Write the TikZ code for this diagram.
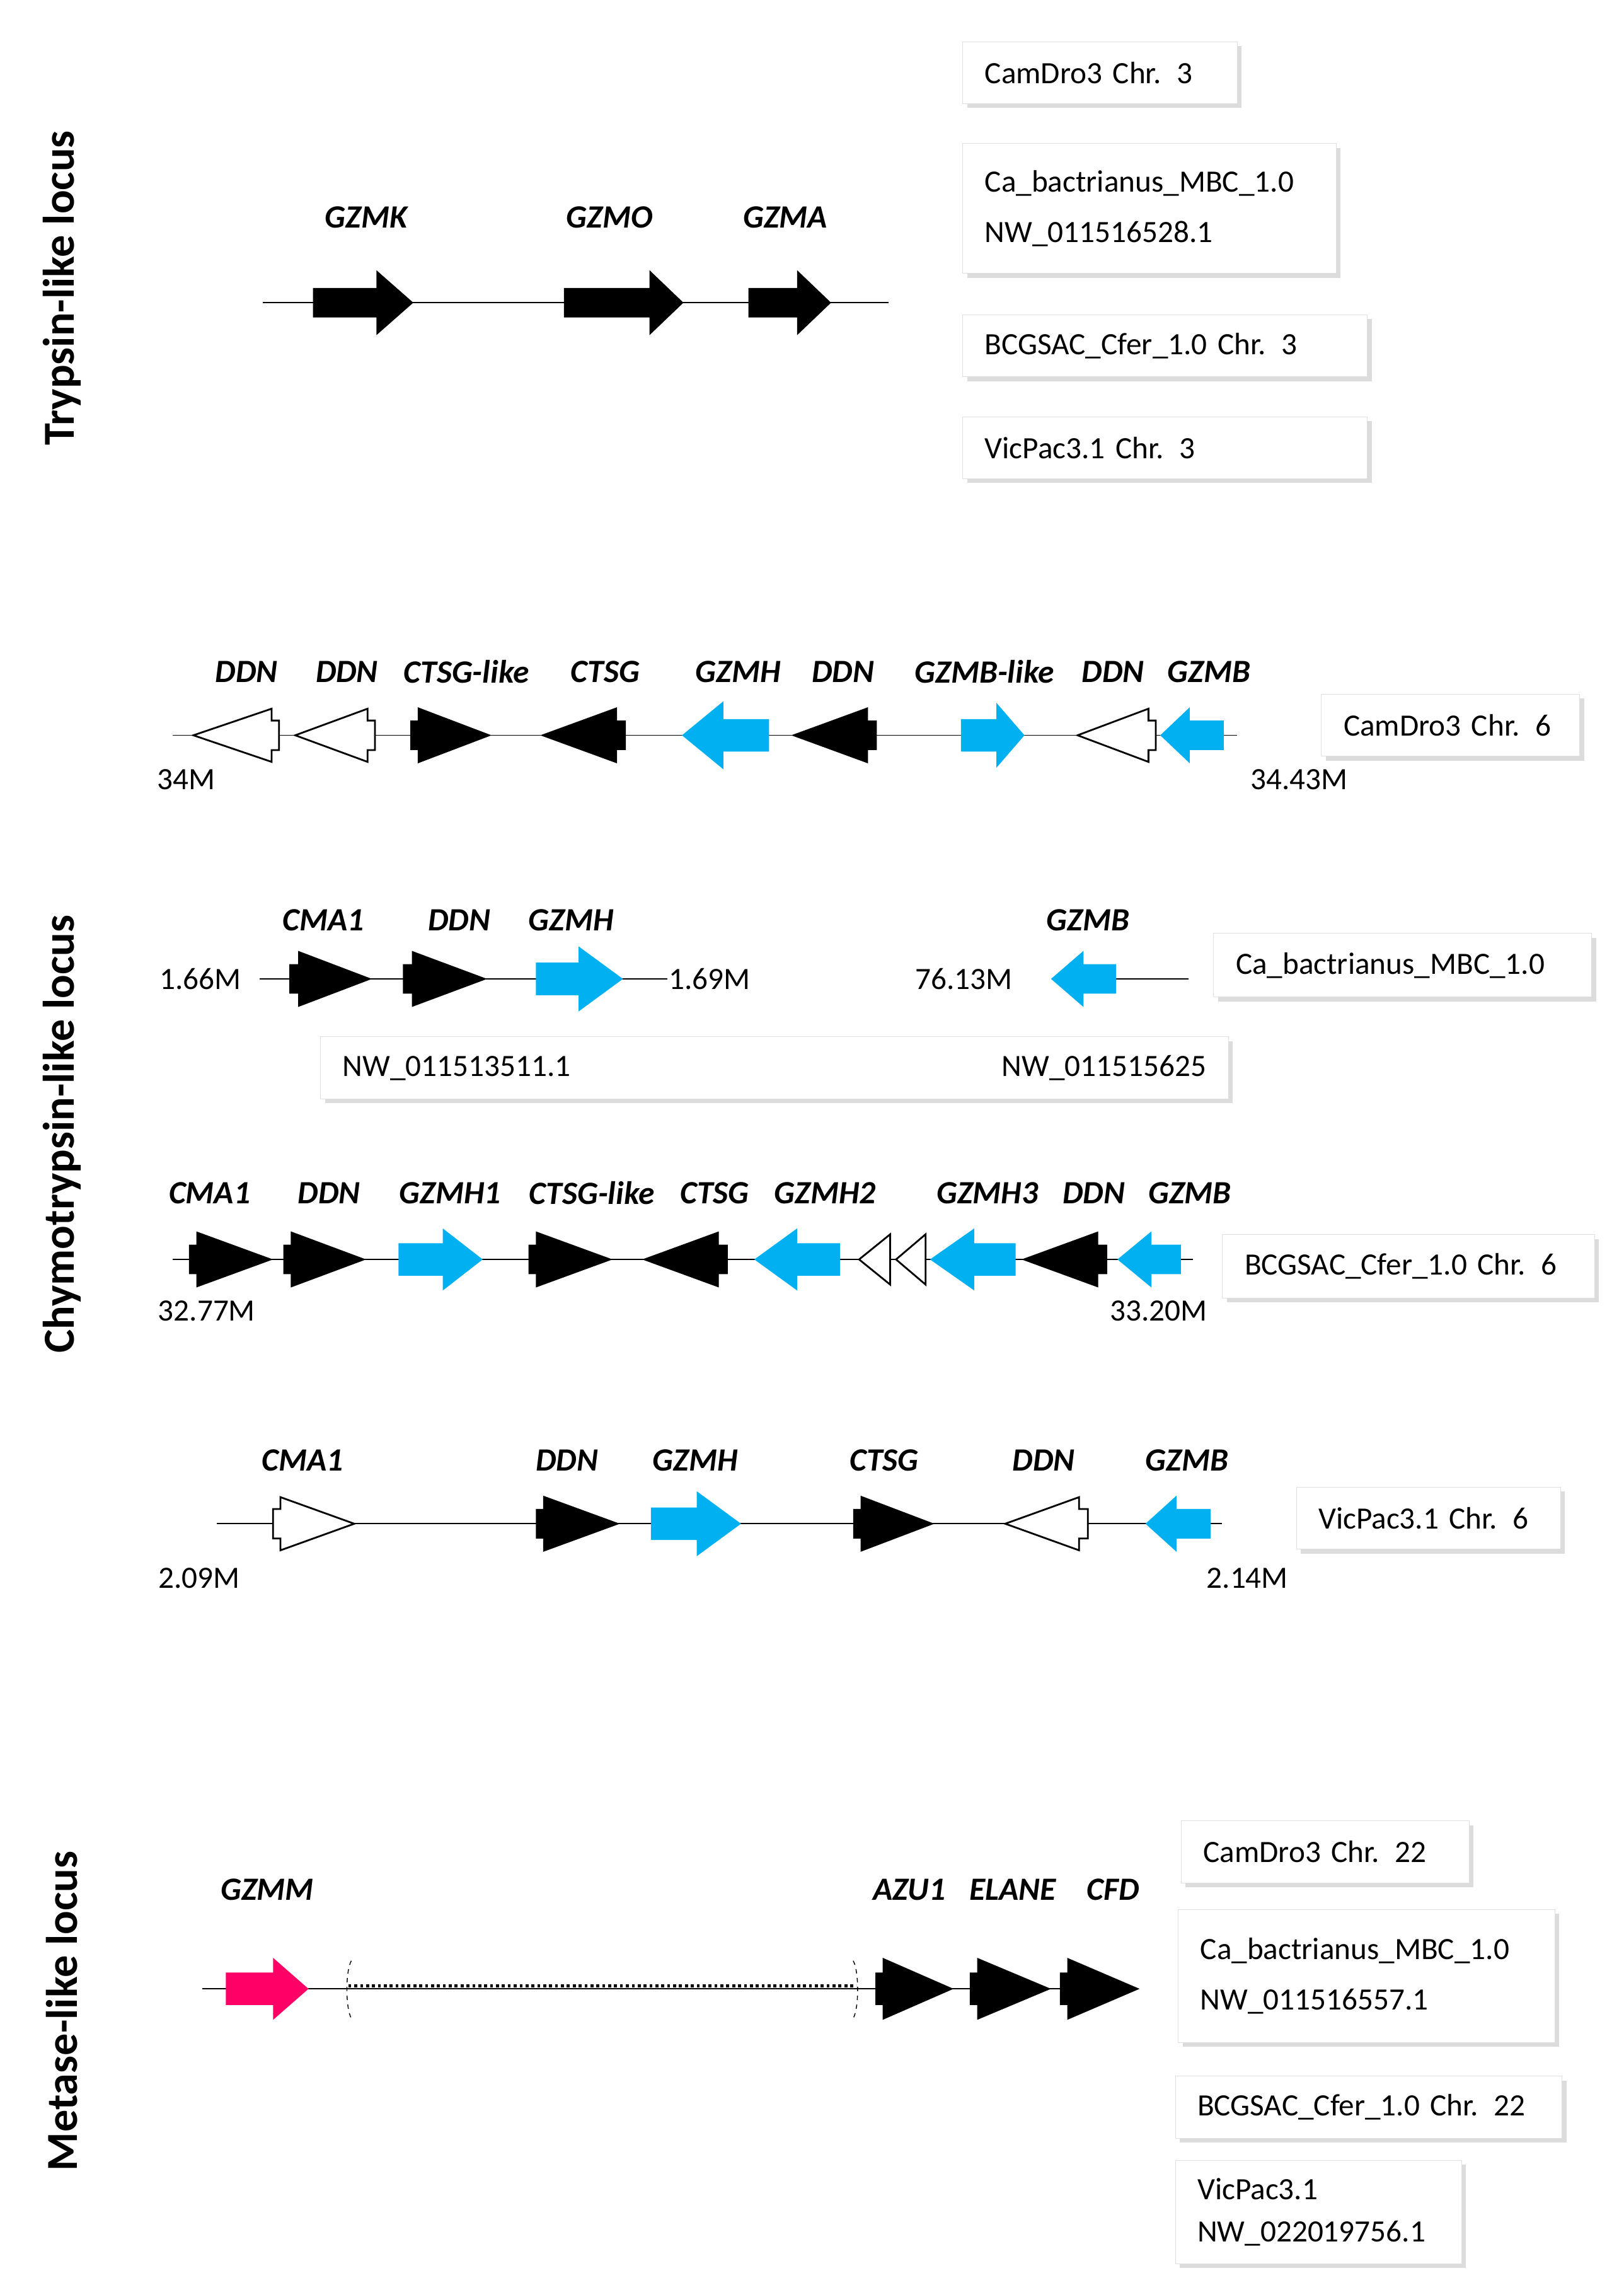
\documentclass[tikz,border=0pt]{standalone}
\usepackage{fontspec}
\setmainfont{Carlito}
\usetikzlibrary{shadows}
\definecolor{gzblue}{HTML}{00B0F0}
\definecolor{gzpink}{HTML}{FF0066}
\tikzset{
  box/.style={draw=gray!25, fill=white, anchor=north west, align=left,
    inner xsep=15pt, font=\fontsize{21}{34}\selectfont,
    drop shadow={shadow xshift=3pt, shadow yshift=-3pt, fill=gray!55}},
  gname/.style={font=\fontsize{22}{24}\selectfont\bfseries\itshape},
  mbp/.style={font=\fontsize{21}{24}\selectfont},
  locus/.style={font=\fontsize{30}{32}\selectfont\bfseries, rotate=90},
  blk/.style={fill=black},
  wht/.style={draw=black, line width=1.2pt, fill=white},
  blu/.style={fill=gzblue},
  pnk/.style={fill=gzpink},
  chrom/.style={line width=0.8pt}
}
% #1 style, #2 tail end, #3 head base, #4 tip, #5 y, #6 tail half, #7 head half
\newcommand\gene[7]{\path[#1] (#2,#5-#6) -- (#3,#5-#6) -- (#3,#5-#7) -- (#4,#5)
  -- (#3,#5+#7) -- (#3,#5+#6) -- (#2,#5+#6) -- cycle;}
% #1 name, #2 x, #3 y, #4 width, #5 height, #6 text
\newcommand\lbox[6]{\node[box, minimum width=#4pt, minimum height=#5pt,
  text width=#4pt-30pt] (#1) at (#2,#3) {#6};}
\begin{document}
\begin{tikzpicture}[x=1pt, y=-1pt]
\useasboundingbox (0,0) rectangle (1100,1551);
% loci
\node[locus] (tl) at (42,195) {Trypsin-like locus};
\node[locus] (cl) at (42,768) {Chymotrypsin-like locus};
\node[locus] (ml) at (42,1362) {Metase-like locus};
% trypsin-like
\draw[chrom] (178,205) -- (602,205);
\gene{blk}{212}{255}{280}{205}{10}{22}
\gene{blk}{382}{440}{463}{205}{10}{22}
\gene{blk}{507}{540}{563}{205}{10}{22}
\node[gname] (gzmk) at (248,147) {GZMK};
\node[gname] (gzmo) at (413,147) {GZMO};
\node[gname] (gzma) at (532,147) {GZMA};
\lbox{b1}{652}{28}{186}{42}{CamDro3 Chr. 3}
\lbox{b2}{652}{97}{253}{88}{Ca\_bactrianus\_MBC\_1.0\\NW\_011516528.1}
\lbox{b3}{652}{213}{274}{42}{BCGSAC\_Cfer\_1.0 Chr. 3}
\lbox{b4}{652}{282}{274}{42}{VicPac3.1 Chr. 3}
% chymotrypsin-like, CamDro3
\draw[chrom] (117,498) -- (838,498);
\gene{wht}{189}{184}{131}{498}{10}{18}
\gene{wht}{254}{249}{200}{498}{10}{18}
\gene{blk}{278}{283}{333}{498}{10}{19}
\gene{blk}{424}{418}{366}{498}{10}{19}
\gene{blu}{521}{490}{462}{498}{11}{23}
\gene{blk}{594}{588}{536}{498}{10}{19}
\gene{blu}{651}{675}{694}{498}{11}{22}
\gene{wht}{783}{778}{730}{498}{10}{18}
\gene{blu}{829}{806}{786}{498}{10}{19}
\foreach \x/\t in {167/DDN, 235/DDN, 316/CTSG-like, 410/CTSG, 500/GZMH,
  571/DDN, 667/GZMB-like, 754/DDN, 819/GZMB}
  \node[gname] (c1\x) at (\x,455) {\t};
\node[mbp] (p1a) at (126,528) {34M};
\node[mbp] (p1b) at (880,528) {34.43M};
\lbox{b5}{895}{470}{175}{42}{CamDro3 Chr. 6}
% Ca_bactrianus
\draw[chrom] (176,663) -- (452,663);
\gene{blk}{196}{202}{252}{663}{10}{19}
\gene{blk}{273}{279}{330}{663}{10}{19}
\gene{blu}{363}{392}{422}{663}{11}{22}
\draw[chrom] (734,663) -- (805,663);
\gene{blu}{756}{734}{712}{663}{10}{19}
\foreach \x/\t in {219/CMA1, 311/DDN, 387/GZMH, 737/GZMB}
  \node[gname] (c2\x) at (\x,623) {\t};
\node[mbp, anchor=east] (p2a) at (167,663) {1.66M};
\node[mbp, anchor=west, inner sep=1pt] (p2b) at (452,663) {1.69M};
\node[mbp] (p2c) at (653,663) {76.13M};
\lbox{b6}{822}{632}{256}{43}{Ca\_bactrianus\_MBC\_1.0}
\lbox{b7}{217}{702}{615}{42}{NW\_011513511.1\hfill NW\_011515625}
% BCGSAC
\draw[chrom] (117,853) -- (808,853);
\gene{blk}{128}{133}{185}{853}{10}{19}
\gene{blk}{192}{197}{248}{853}{10}{19}
\gene{blu}{270}{300}{327}{853}{11}{21}
\gene{blk}{358}{363}{415}{853}{10}{19}
\gene{blk}{493}{487}{435}{853}{10}{19}
\gene{blu}{569}{540}{511}{853}{11}{21}
\gene{wht}{603}{603}{582}{853}{17}{17}
\gene{wht}{627}{627}{607}{853}{17}{17}
\gene{blu}{688}{660}{630}{853}{11}{21}
\gene{blk}{750}{744}{692}{853}{10}{19}
\gene{blu}{800}{780}{757}{853}{10}{19}
\foreach \x/\t in {142/CMA1, 223/DDN, 305/GZMH1, 401/CTSG-like, 484/CTSG,
  559/GZMH2, 669/GZMH3, 741/DDN, 806/GZMB}
  \node[gname] (c3\x) at (\x,808) {\t};
\node[mbp] (p3a) at (140,888) {32.77M};
\node[mbp] (p3b) at (785,888) {33.20M};
\lbox{b8}{828}{836}{252}{43}{BCGSAC\_Cfer\_1.0 Chr. 6}
% VicPac
\draw[chrom] (147,1032) -- (828,1032);
\gene{wht}{185}{190}{240}{1032}{10}{18}
\gene{blk}{363}{368}{420}{1032}{10}{19}
\gene{blu}{441}{472}{502}{1032}{11}{22}
\gene{blk}{578}{583}{633}{1032}{10}{19}
\gene{wht}{737}{731}{681}{1032}{10}{18}
\gene{blu}{820}{797}{776}{1032}{10}{19}
\foreach \x/\t in {205/CMA1, 384/DDN, 471/GZMH, 599/CTSG, 707/DDN, 804/GZMB}
  \node[gname] (c4\x) at (\x,989) {\t};
\node[mbp] (p4a) at (135,1069) {2.09M};
\node[mbp] (p4b) at (845,1069) {2.14M};
\lbox{b9}{878}{1007}{179}{42}{VicPac3.1 Chr. 6}
% metase-like
\draw[chrom] (137,1347) -- (770,1347);
\draw[line width=2pt, dotted] (236,1345) -- (580,1345);
\draw[dashed, line width=0.6pt] (238,1328) .. controls (234,1335) and (234,1360) .. (238,1367);
\draw[dashed, line width=0.6pt] (578,1328) .. controls (582,1335) and (582,1360) .. (578,1367);
\gene{pnk}{153}{185}{209}{1347}{11}{21}
\gene{blk}{593}{598}{646}{1347}{11}{21}
\gene{blk}{657}{662}{712}{1347}{11}{21}
\gene{blk}{718}{723}{772}{1347}{11}{21}
\foreach \x/\t in {181/GZMM, 616/AZU1, 686/ELANE, 754/CFD}
  \node[gname] (m\x) at (\x,1280) {\t};
\lbox{b10}{800}{1233}{195}{42}{CamDro3 Chr. 22}
\lbox{b11}{798}{1293}{255}{90}{Ca\_bactrianus\_MBC\_1.0\\NW\_011516557.1}
\lbox{b12}{796}{1406}{262}{42}{BCGSAC\_Cfer\_1.0 Chr. 22}
\node[box, minimum width=194pt, minimum height=70pt, text width=164pt,
  font=\fontsize{21}{29}\selectfont] (b13) at (796,1463) {VicPac3.1\\NW\_022019756.1};
\end{tikzpicture}
\end{document}
